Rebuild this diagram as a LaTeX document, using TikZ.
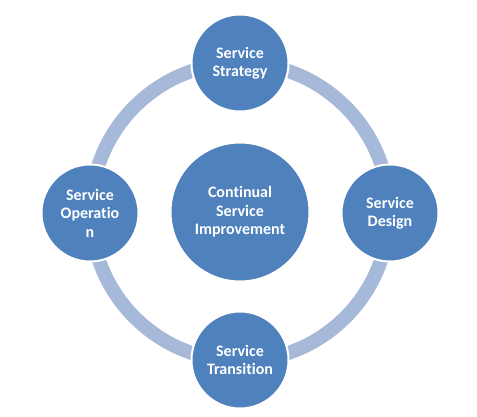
\documentclass[tikz,border=0pt]{standalone}
\usepackage{fontspec}
\setmainfont[RawFeature={-liga;-clig;-calt;-dlig}]{Carlito}
\usepackage{tikz}
\usetikzlibrary{positioning}
\definecolor{circleblue}{RGB}{79,129,189}
\definecolor{ringblue}{RGB}{167,185,217}

\begin{document}
\begin{tikzpicture}[
  x=1pt, y=1pt,
  every node/.style={font=\fontsize{16}{18.5}\selectfont\bfseries, text=white, align=center},
  phase/.style={circle, minimum size=97pt, inner sep=0pt, fill=circleblue, draw=white, line width=2pt},
  core/.style={phase, minimum size=139pt},
  ring/.style={line width=14pt, ringblue}
]
\useasboundingbox (0,0) rectangle (477,416);

% Ring behind the phases
\coordinate (M) at (240,204);
\draw[ring] (M) circle[radius=149];

% Centre: Continual Service Improvement
\node[core] (CSI) at (M) {Continual\\Service\\Improvement};

% Phases round the ring
\node[phase] (SS) at (240,353) {Service\\Strategy};
\node[phase] (SD) at (390,203) {Service\\Design};
\node[phase] (ST) at (240,56) {Service\\Transition};
\node[phase] (SO) at (90,203) {Service\\Operatio\\n};

\end{tikzpicture}
\end{document}
